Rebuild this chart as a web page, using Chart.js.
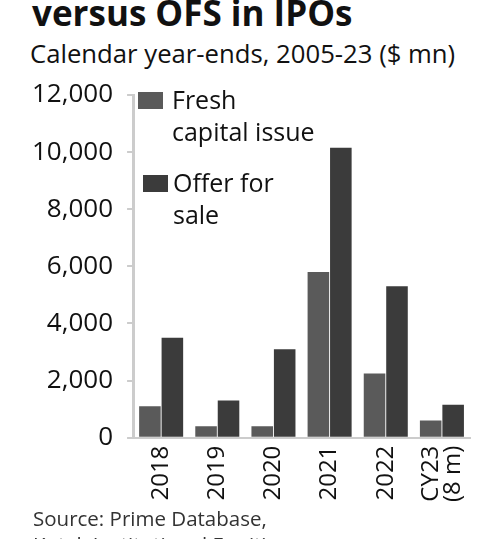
<!DOCTYPE html>
<html>
<head>
<meta charset="utf-8">
<script src="https://cdn.jsdelivr.net/npm/chart.js@4"></script>
<style>
  html, body { margin: 0; padding: 0; background: #fff; overflow: hidden; }
  body { width: 481px; height: 539px; position: relative; font-family: "Open Sans", sans-serif; color: #111; }
  #title { position: absolute; left: 32px; top: -11px; font-size: 35px; font-weight: 700; white-space: nowrap; }
  #subtitle { position: absolute; left: 30px; top: 36px; font-size: 25.7px; white-space: nowrap; }
  #source { position: absolute; left: 33px; top: 505px; font-size: 20.5px; color: #333; line-height: 26px; white-space: nowrap; }
  #wrap { position: absolute; left: 0; top: 0; width: 481px; height: 539px; }
  .lg { position: absolute; font-size: 25px; line-height: 32px; white-space: nowrap; }
  .sw { position: absolute; width: 25px; height: 17px; }
</style>
</head>
<body>
<div id="title">versus OFS in IPOs</div>
<div id="subtitle">Calendar year-ends, 2005-23 ($ mn)</div>
<div id="wrap"><canvas id="c"></canvas></div>
<div class="sw" style="left:138px;top:92px;background:#5a5a5a"></div>
<div class="lg" style="left:172px;top:83px">Fresh<br>capital issue</div>
<div class="sw" style="left:143px;top:175px;background:#3b3b3b"></div>
<div class="lg" style="left:173px;top:166px">Offer for<br>sale</div>
<div id="source">Source: Prime Database,<br>Kotak Institutional Equities</div>
<script>
  const categories = ["2018", "2019", "2020", "2021", "2022", ["CY23", "(8 m)"]];
  const freshCapital = [1100, 400, 400, 5800, 2250, 600];
  const offerForSale = [3500, 1300, 3100, 10150, 5300, 1150];
  const yTicks = [0, 2000, 4000, 6000, 8000, 10000, 12000];

  // rotated multi-line labels start at the tick; centre them on it instead
  const centreLabels = {
    id: "centreLabels",
    beforeDraw(chart) {
      const scale = chart.scales.x;
      const items = scale.getLabelItems();
      items.forEach(function (item) {
        if (Array.isArray(item.label) && !item._shifted) {
          const lh = scale.options.ticks.font.size * 0.92;
          item.options.translation[0] -= (item.label.length - 1) * lh / 2;
          item._shifted = true;
        }
      });
    }
  };

  new Chart(document.getElementById("c"), {
    type: "bar",
    data: {
      labels: categories,
      datasets: [
        { label: "Fresh capital issue", data: freshCapital, backgroundColor: "#5a5a5a", barPercentage: 0.96, categoryPercentage: 0.8 },
        { label: "Offer for sale", data: offerForSale, backgroundColor: "#3b3b3b", barPercentage: 0.96, categoryPercentage: 0.8 }
      ]
    },
    plugins: [centreLabels],
    options: {
      responsive: true,
      maintainAspectRatio: false,
      animation: false,
      layout: { padding: { top: 95, right: 11, left: 18, bottom: 29 } },
      plugins: { legend: { display: false }, tooltip: { enabled: false } },
      scales: {
        x: {
          grid: { display: false, drawTicks: false },
          border: { color: "#cccccc", width: 2 },
          afterFit: function (axis) { axis.paddingRight = 0; axis.paddingLeft = 0; },
          ticks: {
            color: "#111",
            font: { family: "Open Sans", size: 24, lineHeight: 0.92 },
            minRotation: 90,
            maxRotation: 90,
            padding: 8,
            autoSkip: false
          }
        },
        y: {
          min: 0,
          max: 12000,
          afterBuildTicks: function (axis) { axis.ticks = yTicks.map((v) => ({ value: v })); },
          grid: { drawOnChartArea: false, drawTicks: true, tickLength: 6, color: "#cccccc", lineWidth: 2 },
          border: { color: "#cccccc", width: 3 },
          ticks: {
            color: "#111",
            font: { family: "Open Sans", size: 26 },
            padding: 14,
            callback: (v) => v.toLocaleString("en-US")
          }
        }
      }
    }
  });
</script>
</body>
</html>
